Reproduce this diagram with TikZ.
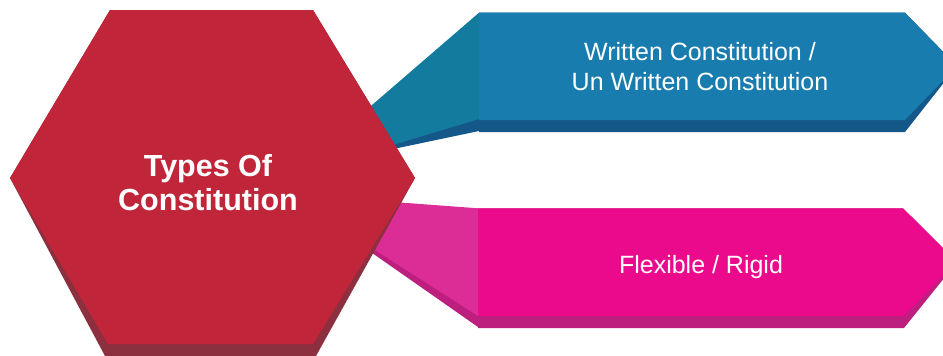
\documentclass[tikz,border=0pt]{standalone}
\usepackage{fontspec}
\setmainfont{Liberation Sans}
\definecolor{hexred}{HTML}{C1253A}
\definecolor{hexshadow}{HTML}{8C2F3E}
\definecolor{bannerblue}{HTML}{187DAE}
\definecolor{blueshadow}{HTML}{14588A}
\definecolor{tealconn}{HTML}{137B9E}
\definecolor{bannerpink}{HTML}{EC0A8C}
\definecolor{pinkshadow}{HTML}{BC1F7E}
\definecolor{pinkconn}{HTML}{DB2D95}
\tikzset{
  titletext/.style={text=white, font=\bfseries\fontsize{30.5}{34}\selectfont, align=center, inner sep=0pt},
  bannertext/.style={text=white, font=\fontsize{25}{30}\selectfont, align=center, inner sep=0pt}
}
\begin{document}
\begin{tikzpicture}[x=1pt,y=-1pt]
\useasboundingbox (0,0) rectangle (943,356);
\begin{scope}
\clip (0,0) rectangle (943,356);
% blue connector
\fill[blueshadow] (479,100) -- (479,131) -- (360,156) -- (360,150) -- cycle;
\fill[tealconn] (479,12.7) -- (479,119) -- (360,155) -- (360,115.4) -- cycle;
% blue banner
\fill[blueshadow] (479,12.7) -- (905,12.7) -- (957,66) -- (905,132) -- (479,132) -- cycle;
\fill[bannerblue] (479,12.7) -- (905,12.7) -- (957,66) -- (905,120) -- (479,120) -- cycle;
% pink connector
\fill[pinkshadow] (478,300) -- (478,327) -- (360,244.5) -- (360,235) -- cycle;
\fill[pinkconn] (478,208.3) -- (360,199.5) -- (360,240.5) -- (478,316) -- cycle;
% pink banner
\fill[pinkshadow] (478,208.3) -- (903,208.3) -- (957,262) -- (904,328) -- (478,328) -- cycle;
\fill[bannerpink] (478,208.3) -- (903,208.3) -- (957,262) -- (904,316) -- (478,316) -- cycle;
% hexagon
\fill[hexshadow] (110,10) -- (313,10) -- (415,178) -- (316,356) -- (105,356) -- (10,178) -- cycle;
\fill[hexred] (110,10) -- (313,10) -- (415,178) -- (313,344) -- (108,344) -- (10,178) -- cycle;
\end{scope}
\node[titletext, anchor=base] (title) at (208,210) {Types Of\\Constitution};
\node[bannertext, anchor=base] (written) at (700,90) {Written Constitution /\\Un Written Constitution};
\node[bannertext, anchor=base] (flexible) at (701,273) {Flexible / Rigid};
\end{tikzpicture}
\end{document}
